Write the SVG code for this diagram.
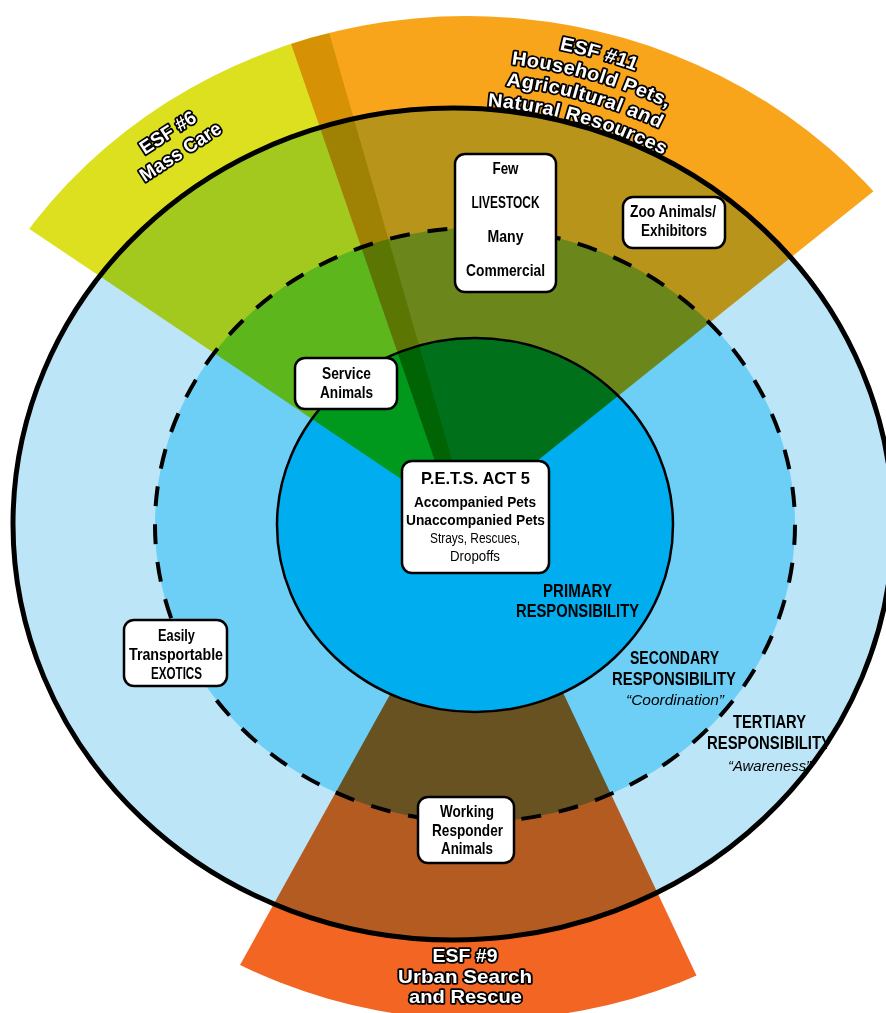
<svg xmlns="http://www.w3.org/2000/svg" width="886" height="1013" viewBox="0 0 886 1013">
<style>
.box{fill:#fff;stroke:#000;stroke-width:2.5}
.bt{font-family:"Liberation Sans Narrow","Liberation Sans",Arial,sans-serif;font-weight:bold;font-size:16.5px;text-anchor:middle;fill:#000}
.sm{font-size:15px}
.rg{font-weight:normal}
.it{font-weight:normal;font-style:italic;font-size:15.5px}
.lb{font-size:18px}
.esf{font-family:"Liberation Sans",Arial,sans-serif;font-weight:bold;font-size:19px;fill:#fff;stroke:#000;stroke-width:3.5;paint-order:stroke;stroke-linejoin:round}
.mul{mix-blend-mode:multiply}
</style>
<defs>
<clipPath id="cTop"><ellipse cx="467" cy="524" rx="538" ry="508"/></clipPath>
<clipPath id="cBot"><ellipse cx="480" cy="525" rx="524" ry="495"/></clipPath>
<path id="a1" d="M -434.4 -215.6 A 485 485 0 0 1 482 54.1" fill="none"/>
<path id="a2" d="M -414.7 -205.9 A 463 463 0 0 1 460.1 51.6" fill="none"/>
<path id="a3" d="M -395 -196.1 A 441 441 0 0 1 438.3 49.2" fill="none"/>
<path id="a4" d="M -375.3 -186.3 A 419 419 0 0 1 416.4 46.7" fill="none"/>
</defs>
<rect width="886" height="1013" fill="#fff"/>
<g id="rings">
<ellipse id="tertiary" cx="453" cy="524" rx="440" ry="416" fill="#BDE5F8"/>
<ellipse id="secondary" cx="475" cy="525" rx="320" ry="297" fill="#6DCFF6"/>
<polygon id="esf9-wedge" class="mul" clip-path="url(#cBot)" points="484,525 118,1185 800,1195" fill="#F26522"/>
<ellipse id="primary" cx="475" cy="525" rx="198" ry="187" fill="#00AEEF"/>
<polygon id="esf6-wedge" class="mul" clip-path="url(#cTop)" points="471,526 -192,80 259,-211" fill="#DCE01E"/>
<polygon id="esf11-wedge" class="mul" clip-path="url(#cTop)" points="457,525 208,-197 1081,25" fill="#F9A51B"/>
</g>
<g id="connectors" fill="none" stroke="#000">
<ellipse cx="475" cy="525" rx="320" ry="297" stroke-width="4" stroke-dasharray="20 18"/>
<ellipse cx="475" cy="525" rx="198" ry="187" stroke-width="2.5"/>
<ellipse cx="453" cy="524" rx="440" ry="416" stroke-width="5"/>
</g>
<g id="esf11-label" class="esf" transform="translate(453,524) scale(1.058,1)" text-anchor="middle" font-size="17.5" letter-spacing="0.4">
<text><textPath href="#a1" startOffset="50%">ESF #11</textPath></text>
<text><textPath href="#a2" startOffset="50%">Household Pets,</textPath></text>
<text><textPath href="#a3" startOffset="50%">Agricultural and</textPath></text>
<text><textPath href="#a4" startOffset="50%">Natural Resources</textPath></text>
</g>
<g id="esf6-label" class="esf" transform="translate(174,142) rotate(-33)" text-anchor="middle">
<text x="0" y="-5" textLength="63" lengthAdjust="spacingAndGlyphs">ESF #6</text>
<text x="0" y="18" textLength="93" lengthAdjust="spacingAndGlyphs">Mass Care</text>
</g>
<g id="esf9-label" class="esf" text-anchor="middle">
<text x="465" y="962" textLength="65" lengthAdjust="spacingAndGlyphs">ESF #9</text>
<text x="465" y="983" textLength="134" lengthAdjust="spacingAndGlyphs">Urban Search</text>
<text x="465.5" y="1003" textLength="113" lengthAdjust="spacingAndGlyphs">and Rescue</text>
</g>
<g id="livestock">
<rect class="box" x="455" y="154" width="101" height="138" rx="10"/>
<text class="bt" x="505.5" y="174" textLength="26" lengthAdjust="spacingAndGlyphs">Few</text>
<text class="bt" x="505.5" y="208" textLength="68" lengthAdjust="spacingAndGlyphs">LIVESTOCK</text>
<text class="bt" x="505.5" y="242" textLength="36" lengthAdjust="spacingAndGlyphs">Many</text>
<text class="bt" x="505.5" y="276" textLength="79" lengthAdjust="spacingAndGlyphs">Commercial</text>
</g>
<g id="zoo">
<rect class="box" x="623" y="197" width="102" height="51" rx="10"/>
<text class="bt" x="673" y="217" textLength="86" lengthAdjust="spacingAndGlyphs">Zoo Animals/</text>
<text class="bt" x="674" y="236" textLength="66" lengthAdjust="spacingAndGlyphs">Exhibitors</text>
</g>
<g id="service">
<rect class="box" x="295" y="358" width="102" height="51" rx="10"/>
<text class="bt" x="346.5" y="379" textLength="49" lengthAdjust="spacingAndGlyphs">Service</text>
<text class="bt" x="346.5" y="398" textLength="53" lengthAdjust="spacingAndGlyphs">Animals</text>
</g>
<g id="pets">
<rect class="box" x="402" y="461" width="147" height="112" rx="10"/>
<text class="bt" x="475.5" y="484" font-size="21" textLength="109" lengthAdjust="spacingAndGlyphs">P.E.T.S. ACT 5</text>
<text class="bt sm" x="475" y="507" textLength="122" lengthAdjust="spacingAndGlyphs">Accompanied Pets</text>
<text class="bt sm" x="475.5" y="525" textLength="139" lengthAdjust="spacingAndGlyphs">Unaccompanied Pets</text>
<text class="bt sm rg" x="475" y="543" textLength="90" lengthAdjust="spacingAndGlyphs">Strays, Rescues,</text>
<text class="bt sm rg" x="475" y="561" textLength="50" lengthAdjust="spacingAndGlyphs">Dropoffs</text>
</g>
<g id="exotics">
<rect class="box" x="124" y="620" width="103" height="66" rx="10"/>
<text class="bt" x="176.5" y="641" textLength="37" lengthAdjust="spacingAndGlyphs">Easily</text>
<text class="bt" x="176" y="660" textLength="94" lengthAdjust="spacingAndGlyphs">Transportable</text>
<text class="bt" x="176.5" y="679" textLength="51" lengthAdjust="spacingAndGlyphs">EXOTICS</text>
</g>
<g id="working">
<rect class="box" x="418" y="797" width="96" height="66" rx="10"/>
<text class="bt" x="467" y="817" textLength="54" lengthAdjust="spacingAndGlyphs">Working</text>
<text class="bt" x="467.5" y="836" textLength="71" lengthAdjust="spacingAndGlyphs">Responder</text>
<text class="bt" x="467" y="854" textLength="52" lengthAdjust="spacingAndGlyphs">Animals</text>
</g>
<g id="primary-label">
<text class="bt lb" x="577.5" y="597" textLength="69" lengthAdjust="spacingAndGlyphs">PRIMARY</text>
<text class="bt lb" x="577.5" y="617" textLength="123" lengthAdjust="spacingAndGlyphs">RESPONSIBILITY</text>
</g>
<g id="secondary-label">
<text class="bt lb" x="674.5" y="664" textLength="89" lengthAdjust="spacingAndGlyphs">SECONDARY</text>
<text class="bt lb" x="674" y="685" textLength="124" lengthAdjust="spacingAndGlyphs">RESPONSIBILITY</text>
<text class="bt it" x="675" y="705" textLength="98" lengthAdjust="spacingAndGlyphs">“Coordination”</text>
</g>
<g id="tertiary-label">
<text class="bt lb" x="769.5" y="728" textLength="73" lengthAdjust="spacingAndGlyphs">TERTIARY</text>
<text class="bt lb" x="769" y="749" textLength="124" lengthAdjust="spacingAndGlyphs">RESPONSIBILITY</text>
<text class="bt it" x="769.5" y="771" textLength="83" lengthAdjust="spacingAndGlyphs">“Awareness”</text>
</g>
</svg>
